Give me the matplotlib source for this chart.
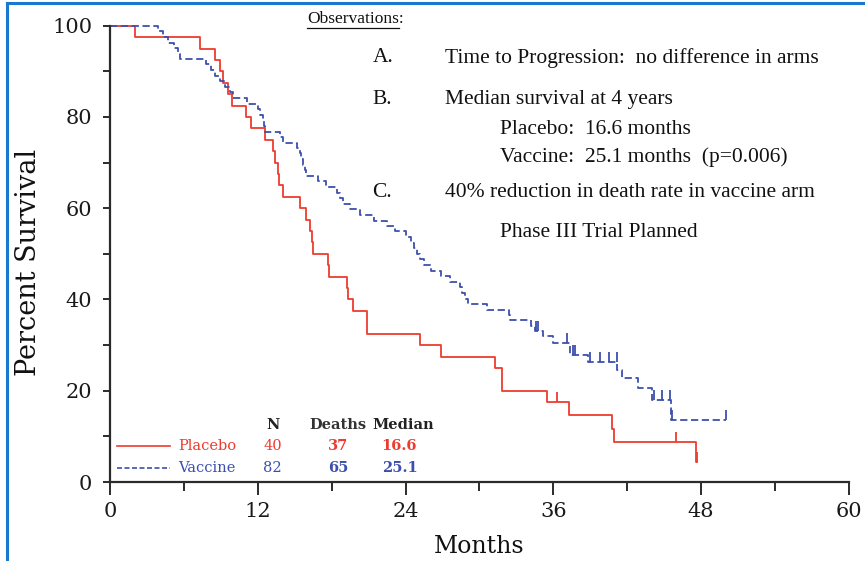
import numpy as np
import matplotlib
matplotlib.use('Agg')
import matplotlib.pyplot as plt
from matplotlib.lines import Line2D

# Kaplan-Meier steps (months, percent surviving)
placebo_t = [0, 2.0, 7.3, 8.5, 8.9, 9.2, 9.6, 9.9, 11.0, 11.4, 12.6, 13.25, 13.4,
             13.6, 13.7, 14.0, 15.4, 15.9, 16.2, 16.4, 16.5, 17.7, 17.75, 19.2,
             19.35, 19.75, 20.85, 20.9, 25.2, 26.9, 31.3, 31.8, 31.85, 35.5, 37.3,
             40.8, 40.95, 47.6]
placebo_s = [100, 97.5, 95, 92.5, 90, 87.5, 85, 82.5, 80, 77.5, 75, 72.5, 70,
             67.5, 65, 62.5, 60, 57.5, 55, 52.5, 50, 47.5, 45, 42.5,
             40, 37.5, 35, 32.5, 30, 27.5, 25, 22.5, 20, 17.5, 14.6,
             11.7, 8.75, 4.4]
placebo_end = 47.7
placebo_cens_t = [36.3, 46.0, 47.65]
placebo_cens_s = [17.5, 8.75, 4.4]

vaccine_t = [0, 3.9, 4.3, 4.7, 5.2, 5.5, 5.7, 7.8, 8.2, 8.5, 8.9, 9.3, 9.7, 10.0,
             11.1, 12.0, 12.2, 12.4, 12.5, 12.6, 13.8, 14.0, 15.2, 15.4, 15.5,
             15.7, 15.8, 15.9, 16.9, 17.5, 18.4, 18.7, 18.9, 19.5, 20.3, 21.4,
             22.5, 23.1, 24.0, 24.4, 24.7, 24.9, 25.2, 25.5, 26.1, 26.9, 27.6,
             28.4, 28.6, 28.8, 29.1, 30.6, 32.4, 32.5, 34.2, 34.5, 35.2, 36.0,
             37.4, 38.8, 41.2, 41.6, 42.9, 44.0, 45.6]
vaccine_s = [100, 98.8, 97.6, 96.3, 95.1, 93.9, 92.7, 91.5, 90.2, 89.0, 87.8,
             86.6, 85.4, 84.1, 82.9, 81.7, 80.5, 79.3, 78.0, 76.8, 75.6, 74.4,
             73.2, 72.0, 70.7, 69.5, 68.3, 67.1, 65.9, 64.6, 63.4, 62.2, 61.0,
             59.8, 58.5, 57.3, 56.1, 54.9, 53.7, 52.4, 51.2, 50.0, 48.8, 47.6,
             46.3, 45.1, 43.9, 42.7, 41.5, 40.2, 39.0, 37.8, 36.6, 35.4, 34.2,
             33.0, 31.9, 30.5, 27.9, 26.4, 24.6, 22.8, 20.6, 18.0, 13.6]
vaccine_end = 50.0
vaccine_cens_t = [34.6, 34.8, 37.1, 37.6, 37.8, 39.0, 39.8, 40.5, 41.2,
                  44.2, 44.8, 45.5, 45.65, 50.0]
vaccine_cens_s = [33.0, 33.0, 30.5, 27.9, 27.9, 26.4, 26.4, 26.4, 26.4,
                  18.0, 18.0, 18.0, 13.6, 13.6]

table_rows = ['Placebo', 'Vaccine']
table_n = [40, 82]
table_deaths = [37, 65]
table_median = ['16.6', '25.1']

observations = [
    ('A.', 'Time to Progression:  no difference in arms'),
    ('B.', 'Median survival at 4 years'),
    ('C.', '40% reduction in death rate in vaccine arm'),
]

RED = '#ee3b2f'
BLUE = '#3d4fae'
AXC = '#2b2b2b'

fig = plt.figure(figsize=(8.65, 5.61), dpi=100)
ax = fig.add_axes([0.1275, 0.1408, 0.8535, 0.8134])

ax.step(placebo_t + [placebo_end], placebo_s + [placebo_s[-1]], where='post',
        color=RED, lw=1.3, clip_on=False)
ax.step(vaccine_t + [vaccine_end], vaccine_s + [vaccine_s[-1]], where='post',
        color=BLUE, lw=1.3, ls=(0, (4, 2)), clip_on=False)
# censor ticks
ax.vlines(placebo_cens_t, placebo_cens_s, np.array(placebo_cens_s) + 2.2,
          color=RED, lw=1.3, clip_on=False)
ax.vlines(vaccine_cens_t, vaccine_cens_s, np.array(vaccine_cens_s) + 2.2,
          color=BLUE, lw=1.3, clip_on=False)

ax.set_xlim(0, 60)
ax.set_ylim(0, 100)
for side in ['top', 'right']:
    ax.spines[side].set_visible(False)
for side in ['left', 'bottom']:
    ax.spines[side].set_color(AXC)
    ax.spines[side].set_linewidth(1.6)

ax.set_xticks([0, 12, 24, 36, 48, 60])
ax.set_xticks([6, 18, 30, 42, 54], minor=True)
ax.set_yticks([0, 20, 40, 60, 80, 100])
ax.set_yticks([10, 30, 50, 70, 90], minor=True)
ax.tick_params(axis='x', which='major', direction='out', length=9.5, width=1.4,
               color=AXC, pad=5, labelsize=15, labelcolor='#1a1a1a')
ax.tick_params(axis='x', which='minor', direction='out', length=6.5, width=1.4,
               color=AXC)
ax.tick_params(axis='y', which='both', direction='out', length=5, width=1.4,
               color=AXC, pad=8, labelsize=15, labelcolor='#1a1a1a')
for lab in ax.get_xticklabels() + ax.get_yticklabels():
    lab.set_family('DejaVu Serif')

ax.set_xlabel('Months', family='DejaVu Serif', fontsize=17, labelpad=10,
              color='#111111')
ax.set_ylabel('Percent Survival', family='DejaVu Serif', fontsize=19.5,
              color='#111111')
ax.yaxis.set_label_coords(-0.0925, 0.482)

# observations block
obs_font = dict(family='Liberation Serif', fontsize=15.5, color='#111111',
                va='center', ha='left')
ax.text(16.0, 101.5, 'Observations:', clip_on=False, family='Liberation Serif',
        fontsize=12.5, color='#111111', va='center', ha='left')
ax.plot([16.0, 23.5], [99.4, 99.4], color='#111111', lw=0.9, clip_on=False)
ax.text(21.3, 93.0, observations[0][0], **obs_font)
ax.text(27.2, 93.0, observations[0][1], **obs_font)
ax.text(21.3, 83.8, observations[1][0], **obs_font)
ax.text(27.2, 83.8, observations[1][1], **obs_font)
ax.text(31.7, 77.2, 'Placebo:  16.6 months', **obs_font)
ax.text(31.7, 71.3, 'Vaccine:  25.1 months  (p=0.006)', **obs_font)
ax.text(21.3, 63.4, observations[2][0], **obs_font)
ax.text(27.2, 63.4, observations[2][1], **obs_font)
ax.text(31.7, 54.6, 'Phase III Trial Planned', **obs_font)

# legend table
tf = dict(family='DejaVu Serif', fontsize=10.5, va='center')
ax.text(13.2, 12.5, 'N', ha='center', weight='bold', color='#222222', **tf)
ax.text(18.5, 12.5, 'Deaths', ha='center', weight='bold', color='#333333', **tf)
ax.text(23.8, 12.5, 'Median', ha='center', weight='bold', color='#222222', **tf)
row_y = [7.9, 3.1]
row_col = [RED, BLUE]
row_ls = ['-', (0, (3, 1.5))]
for i in range(2):
    ax.plot([0.55, 4.85], [row_y[i], row_y[i]], color=row_col[i], lw=1.2,
            ls=row_ls[i])
    ax.text(5.5, row_y[i], table_rows[i], ha='left', color=row_col[i], **tf)
    ax.text(13.2, row_y[i], str(table_n[i]), ha='center', color=row_col[i], **tf)
    ax.text(18.5, row_y[i], str(table_deaths[i]), ha='center',
            color=row_col[i], weight='bold', **tf)
    ax.text(23.5, row_y[i], table_median[i], ha='center', color=row_col[i],
            weight='bold', **tf)

# blue frame on top and left
fig.add_artist(Line2D([7 / 865, 1], [1 - 3 / 561, 1 - 3 / 561],
                      transform=fig.transFigure, color='#1a78cf', lw=2.2))
fig.add_artist(Line2D([7 / 865, 7 / 865], [0, 1 - 3 / 561],
                      transform=fig.transFigure, color='#1a78cf', lw=2.2))

fig.savefig('out.png', dpi=100)
